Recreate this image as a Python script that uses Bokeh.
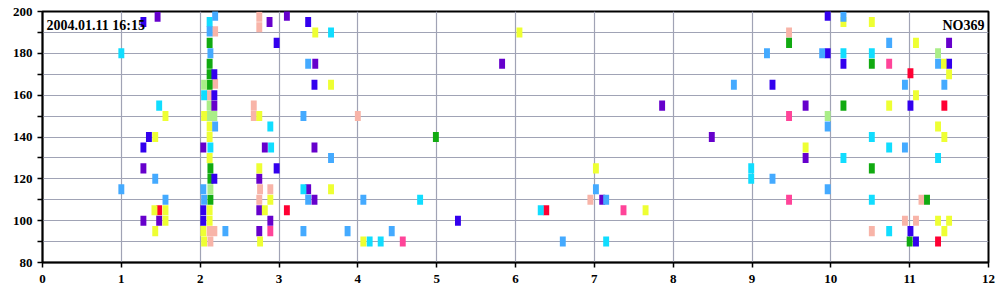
from bokeh.plotting import figure
from bokeh.models import Range1d, FixedTicker, Label
from bokeh.embed import file_html
from bokeh.resources import INLINE

# ---- data (x = time, y = value), grouped by colour series ----
pink_x = [2.19, 2.19, 2.12, 2.12, 2.18, 2.13, 2.75, 2.75, 2.68, 2.68, 2.76, 2.89, 2.75, 4.0, 6.95, 9.47, 11.15, 10.94, 11.08, 10.52]
pink_y = [190.5, 165.5, 160, 95, 95, 90, 197.5, 192.5, 155, 150, 115, 115, 110, 150, 110, 190, 110, 100, 100, 95]

green_x = [2.12, 2.12, 2.12, 2.12, 2.13, 2.13, 2.13, 4.99, 9.47, 10.52, 10.16, 10.52, 11.22, 11.0]
green_y = [185, 175, 170, 165, 125, 120, 110, 140, 185, 175, 155, 125, 110, 90]

lgreen_x = [2.05, 2.12, 2.12, 2.18, 2.13, 11.36, 9.96]
lgreen_y = [165, 155, 150, 150, 115, 180, 150]

magenta_x = [2.89, 4.57, 7.37, 10.74, 9.47, 9.47]
magenta_y = [95, 90, 105, 175, 150, 110]

red_x = [1.48, 3.1, 6.39, 11.01, 11.44, 11.36]
red_y = [105, 105, 105, 170.5, 155, 90]

purple_x = [1.46, 1.28, 1.28, 1.48, 2.18, 2.04, 2.88, 3.1, 3.46, 2.82, 3.45, 2.75, 3.37, 3.45, 2.75, 2.89, 2.75,
            5.83, 7.1, 7.86, 8.49, 11.5, 9.68, 9.68]
purple_y = [197.5, 125, 100, 100, 155, 135, 195, 198, 175, 135, 135, 120, 115, 110, 105, 100, 95,
            175, 110, 155, 140, 185, 155, 130]

blue_x = [1.28, 1.35, 1.28, 2.18, 2.18, 2.18, 2.04, 2.04, 2.97, 3.37, 3.45, 2.97, 5.27, 9.96, 9.96, 10.16,
          11.5, 9.26, 11.01, 11.01, 11.08]
blue_y = [195, 140, 135, 170, 160, 120, 105, 100, 185, 195, 165, 125, 100, 198, 180, 175,
          175, 165, 155, 95, 90]

cyan_x = [1.0, 1.48, 2.12, 2.05, 2.13, 3.66, 2.89, 2.9, 3.31, 4.79, 4.15, 4.29, 6.32, 7.15, 8.99, 8.99,
          10.16, 10.52, 10.52, 10.74, 10.16, 11.36, 10.52, 10.74]
cyan_y = [180, 155, 195, 160, 135, 190, 145, 135, 115, 110, 90, 90, 105, 90, 125, 120,
          180, 180, 140, 135, 130, 130, 110, 95]

yellow_x = [1.56, 1.43, 1.42, 1.56, 1.56, 1.43, 2.05, 2.12, 2.12, 2.12, 2.12, 2.12, 2.04, 2.05,
            3.46, 3.66, 2.75, 2.75, 3.66, 2.89, 2.82, 2.76, 4.07, 6.05, 7.02, 7.65,
            10.16, 10.52, 11.08, 11.43, 11.5, 11.08, 10.74, 11.36, 11.44, 9.68, 11.36, 11.5, 11.44]
yellow_y = [150, 140, 105, 105, 100, 95, 150, 145, 140, 130, 105, 100, 95, 90,
            190, 165, 150, 125, 115, 110, 105, 90, 90, 190, 125, 105,
            195, 195, 185, 175, 170, 160, 155, 145, 140, 135, 100, 100, 95]

lblue_x = [1.43, 1.0, 1.56, 2.19, 2.12, 2.13, 2.19, 2.04, 2.05, 2.32, 3.37, 3.31, 3.66, 3.37, 3.31,
           4.07, 3.87, 4.43, 7.02, 7.15, 6.6, 8.77, 10.16, 10.74, 9.19, 9.89, 11.36, 10.94, 11.44,
           9.96, 10.94, 9.26, 9.96]
lblue_y = [120, 115, 110, 198, 190.5, 180, 145, 115, 110, 95, 175, 150, 130, 110, 95,
           110, 95, 95, 115, 110, 90, 165, 197.5, 185, 180, 180, 175, 165, 165,
           145, 135, 120, 115]

x_ticks = list(range(0, 13))
y_ticks = [80, 100, 120, 140, 160, 180, 200]
y_minor = [90, 110, 130, 150, 170, 190]
stamp_text = "2004.01.11 16:15"
id_text = "NO369"

series = [
    (pink_x, pink_y, "#f8b4a8"),
    (green_x, green_y, "#11aa11"),
    (lgreen_x, lgreen_y, "#aaee88"),
    (magenta_x, magenta_y, "#ff4499"),
    (red_x, red_y, "#ff0033"),
    (purple_x, purple_y, "#6600cc"),
    (blue_x, blue_y, "#3300ee"),
    (cyan_x, cyan_y, "#11ddff"),
    (yellow_x, yellow_y, "#eeff33"),
    (lblue_x, lblue_y, "#44aaff"),
]

p = figure(width=1000, height=300, x_range=Range1d(0, 12), y_range=Range1d(80, 200),
           output_backend="svg", toolbar_location=None,
           min_border_left=42, min_border_right=12, min_border_top=11, min_border_bottom=38)
p.background_fill_color = "white"
p.border_fill_color = "white"
p.outline_line_color = "black"
p.outline_line_width = 2

for xs, ys, col in series:
    p.rect(x=xs, y=ys, width=0.075, height=4.8, fill_color=col, line_color=None)

grid_col = "#a0a3b5"
p.xaxis.ticker = FixedTicker(ticks=x_ticks)
p.yaxis.ticker = FixedTicker(ticks=y_ticks, minor_ticks=y_minor)
p.xgrid.ticker = FixedTicker(ticks=x_ticks)
p.xgrid.grid_line_color = grid_col
p.ygrid.grid_line_color = grid_col
p.ygrid.minor_grid_line_color = grid_col
p.xgrid.grid_line_width = 1.2
p.ygrid.grid_line_width = 1.2
p.ygrid.minor_grid_line_width = 1.2

for ax in (p.xaxis[0], p.yaxis[0]):
    ax.axis_line_color = "black"
    ax.axis_line_width = 1.5
    ax.major_tick_line_color = "black"
    ax.major_tick_line_width = 1.5
    ax.major_tick_out = 5
    ax.major_tick_in = 0
    ax.minor_tick_line_color = "black"
    ax.minor_tick_line_width = 1.5
    ax.minor_tick_out = 5
    ax.minor_tick_in = 0
    ax.major_label_text_font = "Liberation Serif"
    ax.major_label_text_font_style = "bold"
    ax.major_label_text_font_size = "13px"
    ax.major_label_text_color = "black"
p.xaxis.major_label_standoff = 7
p.yaxis.major_label_standoff = 5

p.add_layout(Label(x=0, y=200, x_offset=4, y_offset=-14, text=stamp_text,
                   text_font="Liberation Serif", text_font_style="bold",
                   text_font_size="14px", text_baseline="alphabetic", text_color="black"))
p.add_layout(Label(x=12, y=200, x_offset=-4, y_offset=-14, text=id_text, text_align="right",
                   text_font="Liberation Serif", text_font_style="bold",
                   text_font_size="14px", text_baseline="alphabetic", text_color="black"))

open("out.html", "w").write(file_html(p, INLINE))
